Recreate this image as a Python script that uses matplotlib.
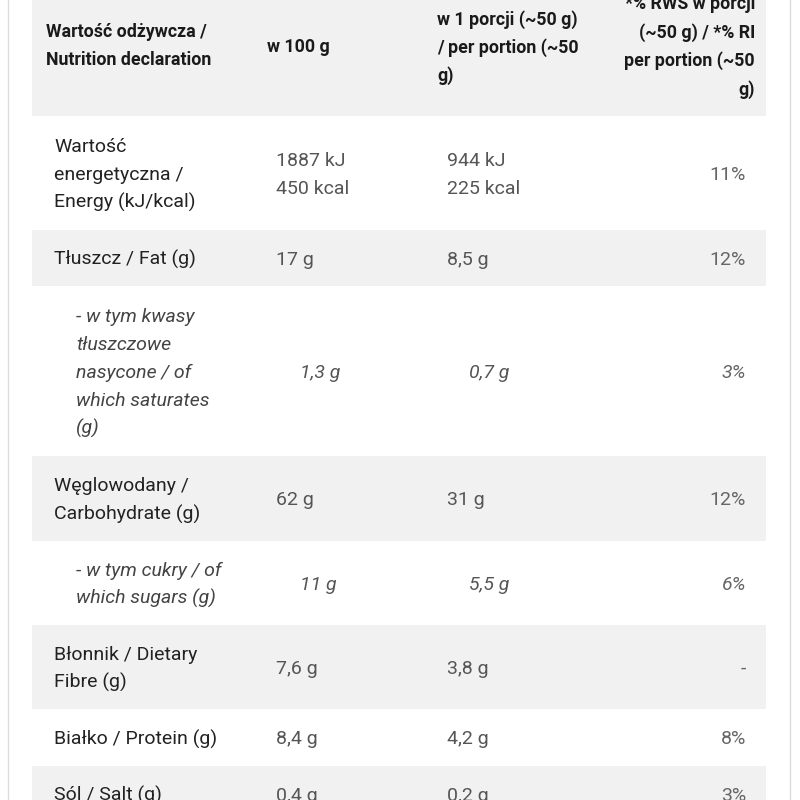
import matplotlib
matplotlib.use("Agg")
import matplotlib.pyplot as plt
from matplotlib.patches import Rectangle

plt.rcParams['font.family'] = ['Roboto', 'DejaVu Sans']

# Table content
header = [
    ["Wartość odżywcza /", "Nutrition declaration"],
    ["w 100 g"],
    ["w 1 porcji (~50 g)", "/ per portion (~50", "g)"],
    ["*% RWS w porcji", "(~50 g) / *% RI", "per portion (~50", "g)"],
]
nutrients = [
    ["Wartość", "energetyczna /", "Energy (kJ/kcal)"],
    ["Tłuszcz / Fat (g)"],
    ["- w tym kwasy", "tłuszczowe", "nasycone / of", "which saturates", "(g)"],
    ["Węglowodany /", "Carbohydrate (g)"],
    ["- w tym cukry / of", "which sugars (g)"],
    ["Błonnik / Dietary", "Fibre (g)"],
    ["Białko / Protein (g)"],
    ["Sól / Salt (g)"],
]
per_100g = [["1887 kJ", "450 kcal"], ["17 g"], ["1,3 g"], ["62 g"],
            ["11 g"], ["7,6 g"], ["8,4 g"], ["0,4 g"]]
per_portion = [["944 kJ", "225 kcal"], ["8,5 g"], ["0,7 g"], ["31 g"],
               ["5,5 g"], ["3,8 g"], ["4,2 g"], ["0,2 g"]]
ri_percent = ["11%", "12%", "3%", "12%", "6%", "-", "8%", "3%"]
is_sub = [False, False, True, False, True, False, False, False]

# Layout (pixels)
W, H = 800, 800
row_edges = [116, 230, 286, 456, 541, 625, 709, 766, 822]
table_left, table_right = 32, 766
gray = "#f1f1f1"

fig = plt.figure(figsize=(8, 8), dpi=100)
ax = fig.add_axes([0, 0, 1, 1])
ax.set_xlim(0, W)
ax.set_ylim(H, 0)
ax.axis('off')

# outer frame lines
ax.plot([8, 8], [0, H], color="#dcdcdc", lw=1)
ax.plot([790, 790], [0, H], color="#dcdcdc", lw=1)

# header background
ax.add_patch(Rectangle((table_left, -10), table_right - table_left, 126,
                       facecolor=gray, edgecolor='none'))
for i in range(len(nutrients)):
    if i % 2 == 1:
        top, bot = row_edges[i], row_edges[i + 1]
        ax.add_patch(Rectangle((table_left, top), table_right - table_left,
                               bot - top, facecolor=gray, edgecolor='none'))


def draw_lines(lines, x, yc, ha='left', line_h=28, base=6.8, **kw):
    n = len(lines)
    for k, s in enumerate(lines):
        y = yc + (k - (n - 1) / 2) * line_h
        ax.text(x, y + base, s, ha=ha, va='baseline', **kw)


# header
hkw = dict(fontsize=12.8, fontweight='bold', color="#1a1a1a", base=5.8)
draw_lines(header[0], 46, 45, **hkw)
draw_lines(header[1], 267, 46.5, **hkw)
draw_lines(header[2], 437, 47, **hkw)
draw_lines(header[3], 755, 46, ha='right', line_h=28.5, **hkw)

# body
fs = 14
for i in range(len(nutrients)):
    yc = (row_edges[i] + row_edges[i + 1]) / 2
    if is_sub[i]:
        style = 'italic'
        x1, x2, x3 = 76, 300, 469
        lab_col, val_col = "#444444", "#555555"
    else:
        style = 'normal'
        x1, x2, x3 = 54, 276, 447
        lab_col, val_col = "#222222", "#555555"
    draw_lines(nutrients[i], x1, yc, fontsize=fs, style=style, color=lab_col)
    draw_lines(per_100g[i], x2, yc, fontsize=fs, style=style, color=val_col)
    draw_lines(per_portion[i], x3, yc, fontsize=fs, style=style, color=val_col)
    draw_lines([ri_percent[i]], 746, yc, ha='right', fontsize=fs,
               style=style, color="#666666")

fig.savefig("out.png", dpi=100)
